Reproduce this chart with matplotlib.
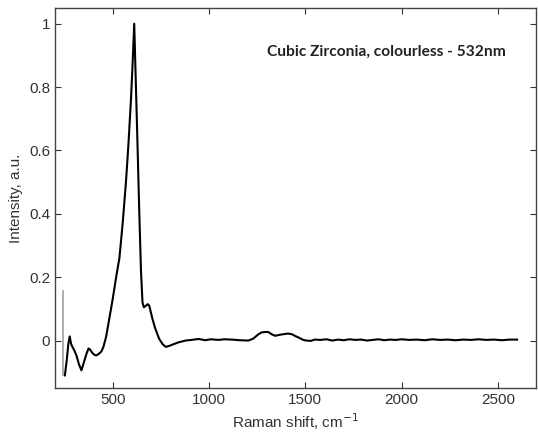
import numpy as np
import matplotlib
matplotlib.use("Agg")
import matplotlib.pyplot as plt

# Raman spectrum
shift=[252,262,270,277,284,291,300,312,325,338,350,365,375,382,396,405,415,428,441,452,
466,480,500,518,535,552,569,582,595,604,612,620,629,638,647,655,662,673,682,690,
698,706,720,741,760,776,793,810,840,879,910,947,980,1010,1050,1080,1119,1160,1205,1230,
1257,1275,1291,1308,1325,1343,1375,1411,1430,1446,1470,1490,1505,1530,1549,1580,1610,1640,1670,1700,
1730,1760,1790,1820,1850,1880,1910,1940,1970,2000,2040,2080,2120,2160,2200,2240,2280,2320,2360,2400,
2440,2480,2520,2560,2600]
intensity=[-0.11,-0.06,-0.01,0.013,-0.01,-0.02,-0.03,-0.047,-0.075,-0.094,-0.07,-0.04,-0.025,-0.028,-0.04,-0.045,-0.047,-0.042,-0.035,-0.02,
0.012,0.06,0.13,0.2,0.26,0.37,0.5,0.62,0.76,0.88,1.0,0.82,0.62,0.41,0.22,0.12,0.105,0.11,0.115,0.11,
0.09,0.07,0.04,0.006,-0.012,-0.02,-0.017,-0.013,-0.006,0.0,0.002,0.005,0.001,0.004,0.002,0.004,0.003,0.001,0.0,0.006,
0.02,0.026,0.027,0.027,0.02,0.015,0.019,0.022,0.02,0.015,0.008,0.002,0.0,-0.001,0.003,0.002,0.004,0.0,0.003,0.001,
0.004,0.002,0.003,0.0,0.002,0.004,0.001,0.003,0.002,0.004,0.002,0.003,0.001,0.004,0.002,0.003,0.001,0.003,0.002,0.004,
0.002,0.003,0.001,0.003,0.003]

# grey marker line at the left edge
marker_x=[241,241]
marker_y=[0.156,-0.11]

xticks=[500,1000,1500,2000,2500]
yticks=[0,0.2,0.4,0.6,0.8,1]
ytick_labels=["0","0.2","0.4","0.6","0.8","1"]

plt.rcParams["font.family"]=["Liberation Sans","DejaVu Sans"]

fig=plt.figure(figsize=(5.38,4.38),dpi=100)
ax=fig.add_axes([0.102,0.114,0.895,0.868])

ax.plot(marker_x,marker_y,color="#a0a0a0",linewidth=1.2)
ax.plot(shift,intensity,color="black",linewidth=1.5)

ax.set_xlim(200,2700)
ax.set_ylim(-0.15,1.05)
ax.set_xticks(xticks)
ax.set_yticks(yticks)
ax.set_yticklabels(ytick_labels)

ax.tick_params(direction="in",top=True,right=True,length=4,labelsize=11,colors="#333333")
for s in ax.spines.values():
    s.set_color("#444444")
    s.set_linewidth(1.0)

ax.set_xlabel("Raman shift, cm$^{-1}$",fontsize=11,color="#333333",labelpad=3)
ax.set_ylabel("Intensity, a.u.",fontsize=11,color="#333333",labelpad=4)

ax.text(0.44,0.884,"Cubic Zirconia, colourless - 532nm",transform=ax.transAxes,
        fontsize=11.2,fontweight="bold",family="Lato",va="center",ha="left",color="#222222")

fig.savefig("out.png",dpi=100)
